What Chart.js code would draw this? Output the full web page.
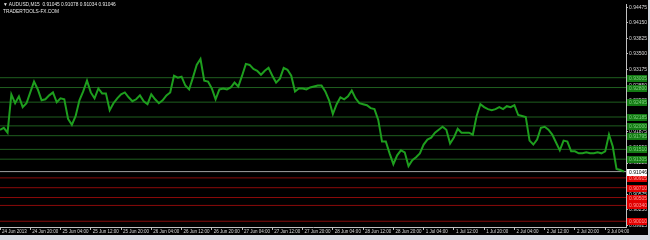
<!DOCTYPE html>
<html lang="en">
<head>
    <meta charset="utf-8">
    <title>AUDUSD,M15</title>
    <script src="https://cdn.jsdelivr.net/npm/chart.js@4.4.1/dist/chart.umd.min.js"></script>
    <style>
        body { margin: 0; background: #d4d8e0; }
        #wrap { position: absolute; left: 0; top: 0; width: 648px; height: 235px; background: #000; }
        #quote { position: absolute; left: 3px; top: 1px; font: 4.8px/7px "Liberation Sans", Arial, sans-serif; color: #e8e8e8; white-space: pre; }
    </style>
</head>
<body>
    <div id="wrap">
        <canvas id="chart" width="648" height="235"></canvas>
        <div id="quote"></div>
    </div>
    <script>
        // header text
        const symbol = 'AUDUSD,M15';
        const ohlc = [0.91045, 0.91078, 0.91034, 0.91046];
        const site = 'TRADERTOOLS-FX.COM';

        // one label every 8 hours
        const timeLabels = ['24 Jun 2013', '24 Jun 20:00', '25 Jun 04:00', '25 Jun 12:00', '25 Jun 20:00',
            '26 Jun 04:00', '26 Jun 12:00', '26 Jun 20:00', '27 Jun 04:00', '27 Jun 12:00', '27 Jun 20:00',
            '28 Jun 04:00', '28 Jun 12:00', '28 Jun 20:00', '1 Jul 04:00', '1 Jul 12:00', '1 Jul 20:00',
            '2 Jul 04:00', '2 Jul 12:00', '2 Jul 20:00', '3 Jul 04:00'];
        const hoursPerLabel = 8;

        const priceTicks = [0.94475, 0.94150, 0.93825, 0.93500, 0.93175, 0.92850, 0.92525, 0.92200,
            0.91875, 0.91550, 0.91225, 0.90900, 0.90575, 0.90250, 0.89925];

        // close price, read once per hour off the chart
        const closes = [
            0.91919, 0.91960, 0.91858, 0.92657, 0.92473, 0.92616, 0.92391, 0.92473, 0.92698, 0.92924,
            0.92760, 0.92534, 0.92555, 0.92637, 0.92698, 0.92493, 0.92575, 0.92555, 0.92145, 0.92022,
            0.92206, 0.92534, 0.92719, 0.92944, 0.92698, 0.92575, 0.92780, 0.92678, 0.92678, 0.92329,
            0.92473, 0.92575, 0.92657, 0.92698, 0.92596, 0.92514, 0.92555, 0.92637, 0.92514, 0.92452,
            0.92657, 0.92555, 0.92473, 0.92534, 0.92637, 0.92698, 0.93047, 0.93006, 0.93026, 0.92842,
            0.92760, 0.93006, 0.93272, 0.93395, 0.92944, 0.92924, 0.92780, 0.92555, 0.92760, 0.92780,
            0.92760, 0.92801, 0.92903, 0.92821, 0.93047, 0.93293, 0.93272, 0.93190, 0.93149, 0.93067,
            0.93149, 0.93211, 0.93047, 0.92903, 0.92985, 0.93211, 0.93170, 0.93047, 0.92719, 0.92780,
            0.92780, 0.92760, 0.92801, 0.92821, 0.92842, 0.92842, 0.92719, 0.92534, 0.92247, 0.92452,
            0.92596, 0.92555, 0.92616, 0.92739, 0.92575, 0.92473, 0.92452, 0.92432, 0.92370, 0.92350,
            0.92124, 0.91673, 0.91673, 0.91427, 0.91202, 0.91386, 0.91489, 0.91448, 0.91161, 0.91284,
            0.91345, 0.91427, 0.91611, 0.91714, 0.91755, 0.91858, 0.91919, 0.91981, 0.91919, 0.91632,
            0.91755, 0.91940, 0.91858, 0.91858, 0.91858, 0.91817, 0.92206, 0.92452, 0.92391, 0.92350,
            0.92329, 0.92350, 0.92391, 0.92350, 0.92411, 0.92391, 0.92432, 0.92227, 0.92206, 0.92186,
            0.91693, 0.91611, 0.91714, 0.91960, 0.91981, 0.91919, 0.91817, 0.91652, 0.91489, 0.91693,
            0.91673, 0.91468, 0.91468, 0.91427, 0.91427, 0.91448, 0.91427, 0.91427, 0.91448, 0.91427,
            0.91468, 0.91817, 0.91570, 0.91099, 0.91078, 0.91046
        ];

        const greenLevels = [0.93005, 0.92800, 0.92495, 0.92185, 0.92000, 0.91795, 0.91510, 0.91305];
        const redLevels = [0.90915, 0.90710, 0.90505, 0.90340, 0.90010];
        const bid = 0.91046;

        const xMax = 165.5;
        const yMin = 0.8989, yMax = 0.94543;

        document.getElementById('quote').textContent =
            '\u25BC ' + symbol + '  ' + ohlc.map(v => v.toFixed(5)).join(' ') + '\n' + site;

        function levelSet(v, color) {
            return {
                data: [{x: 0, y: v}, {x: xMax, y: v}],
                borderColor: color,
                borderWidth: 1,
                pointRadius: 0
            };
        }

        // price tags on the right axis
        const tags = {
            id: 'tags',
            afterDraw(chart) {
                const ctx = chart.ctx;
                const ys = chart.scales.y;
                const x0 = chart.chartArea.right + 1;
                ctx.save();
                ctx.font = '5px "Liberation Sans", Arial, sans-serif';
                ctx.textBaseline = 'middle';
                function tag(v, bg, fg) {
                    const y = Math.round(ys.getPixelForValue(v));
                    ctx.fillStyle = bg;
                    ctx.fillRect(x0, y - 3, 20, 7);
                    ctx.fillStyle = fg;
                    ctx.fillText(v.toFixed(5), x0 + 2, y + 0.5);
                }
                greenLevels.forEach(v => tag(v, '#137a13', '#7fcf7f'));
                redLevels.forEach(v => tag(v, '#e00000', '#ff9a9a'));
                tag(bid, '#ffffff', '#000000');
                ctx.restore();
            }
        };

        new Chart(document.getElementById('chart'), {
            type: 'line',
            data: {
                datasets: [
                    {
                        data: closes.map((c, i) => ({x: i, y: c})),
                        borderColor: '#1e9e1e',
                        borderWidth: 2,
                        pointRadius: 0,
                        tension: 0
                    },
                    levelSet(bid, '#a0a0a0'),
                    ...greenLevels.map(v => levelSet(v, '#1f5f1f')),
                    ...redLevels.map(v => levelSet(v, '#8a0a0a'))
                ]
            },
            options: {
                responsive: false,
                animation: false,
                layout: { padding: 0, autoPadding: false },
                plugins: { legend: { display: false }, tooltip: { enabled: false } },
                scales: {
                    x: {
                        type: 'linear',
                        min: 0,
                        max: xMax,
                        afterBuildTicks: s => { s.ticks = timeLabels.map((t, i) => ({value: i * hoursPerLabel})); },
                        afterFit: s => { s.height = 8; },
                        ticks: {
                            autoSkip: false,
                            maxRotation: 0,
                            align: 'start',
                            labelOffset: 2,
                            padding: -1,
                            color: '#d8d8d8',
                            font: { size: 4.5, family: '"Liberation Sans", Arial, sans-serif' },
                            callback: v => timeLabels[v / hoursPerLabel]
                        },
                        grid: { drawOnChartArea: false, tickLength: 3, color: '#c0c0c0' },
                        border: { color: '#c0c0c0' }
                    },
                    y: {
                        position: 'right',
                        min: yMin,
                        max: yMax,
                        afterBuildTicks: s => { s.ticks = priceTicks.map(v => ({value: v})); },
                        afterFit: s => { s.width = 22; },
                        ticks: {
                            padding: 1,
                            crossAlign: 'near',
                            color: '#d8d8d8',
                            font: { size: 5, family: '"Liberation Sans", Arial, sans-serif' },
                            callback: v => v.toFixed(5)
                        },
                        grid: { drawOnChartArea: false, tickLength: 2, color: '#c0c0c0' },
                        border: { color: '#c0c0c0' }
                    }
                }
            },
            plugins: [tags]
        });
    </script>
</body>
</html>
